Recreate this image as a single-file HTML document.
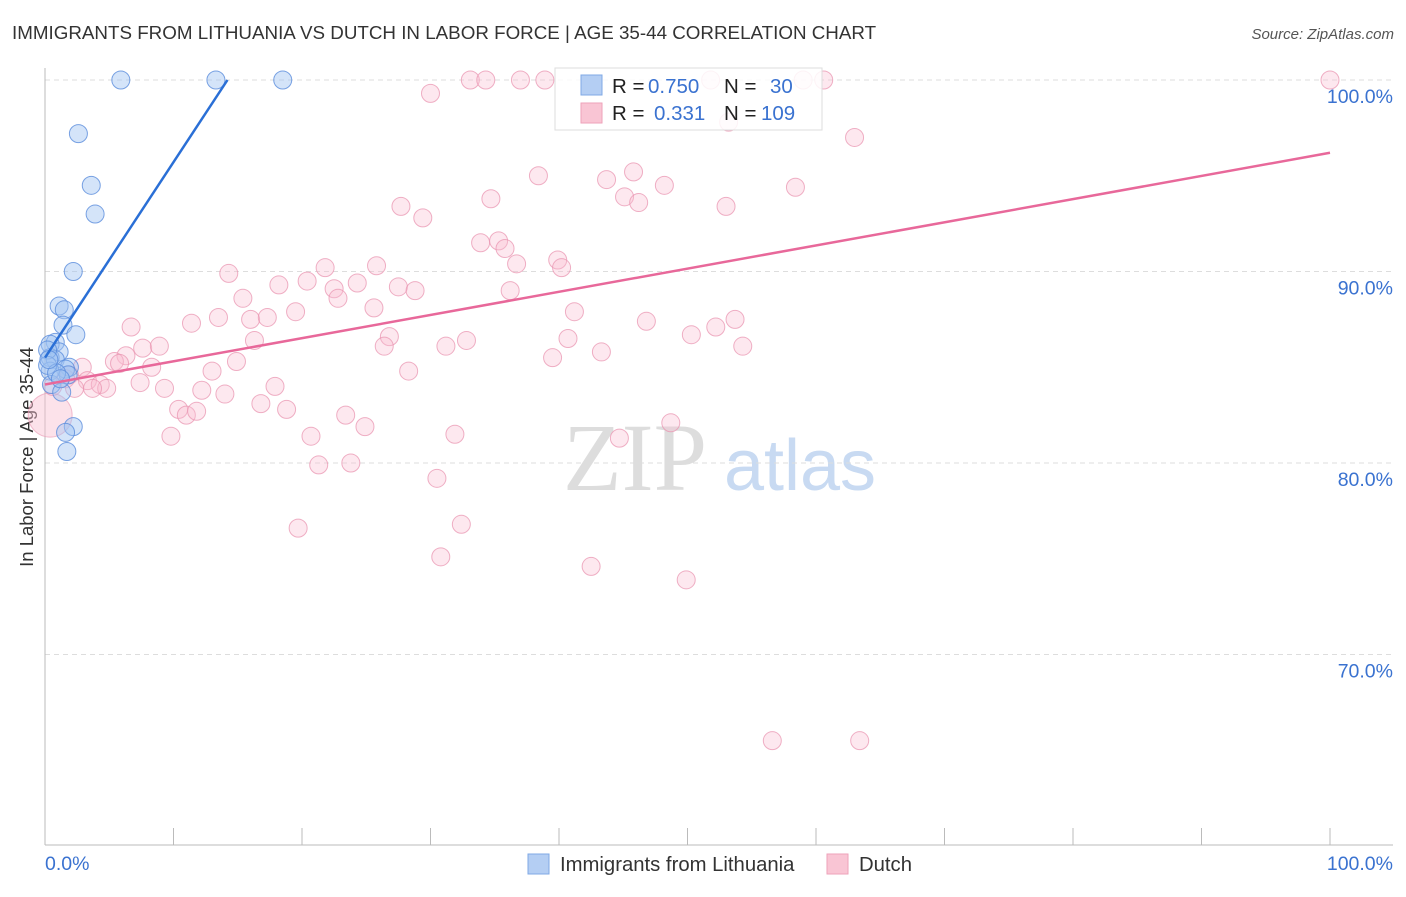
<!DOCTYPE html>
<html><head><meta charset="utf-8"><style>
body{margin:0;background:#fff;font-family:"Liberation Sans",sans-serif}
</style></head><body>
<svg id="chart" width="1406" height="892" xmlns="http://www.w3.org/2000/svg" font-family="Liberation Sans, sans-serif">
<text x="12" y="39" font-size="18.8" fill="#333">IMMIGRANTS FROM LITHUANIA VS DUTCH IN LABOR FORCE | AGE 35-44 CORRELATION CHART</text>
<text x="1394" y="39" font-size="15" fill="#555" text-anchor="end" font-style="italic">Source: ZipAtlas.com</text>
<text transform="translate(33,457) rotate(-90)" font-size="18.5" fill="#333" text-anchor="middle">In Labor Force | Age 35-44</text>
<g>
<text x="635" y="490" font-size="96" fill="#ddd" text-anchor="middle" font-family="Liberation Serif, serif">ZIP</text>
<text x="800" y="490" font-size="72" fill="#c8daf2" text-anchor="middle">atlas</text>
</g>
<g id="grid"></g><g id="axes"></g><g id="pts"></g><g id="lines"></g>
<g>
<rect x="555" y="68" width="267" height="62" fill="#fff" fill-opacity="0.85" stroke="#ddd"/>
<rect x="581" y="75" width="21" height="20" fill="#b4cef3" stroke="#7fa8e6"/>
<rect x="581" y="103" width="21" height="20" fill="#f9c5d4" stroke="#eea2ba"/>
<text x="612" y="93" font-size="20.5" fill="#222">R = </text><text x="648" y="93" font-size="20.5" fill="#3a72d0">0.750</text>
<text x="724" y="93" font-size="20.5" fill="#222">N = </text><text x="770" y="93" font-size="20.5" fill="#3a72d0">30</text>
<text x="612" y="120" font-size="20.5" fill="#222">R = </text><text x="654" y="120" font-size="20.5" fill="#3a72d0">0.331</text>
<text x="724" y="120" font-size="20.5" fill="#222">N = </text><text x="761" y="120" font-size="20.5" fill="#3a72d0">109</text>
</g>
<g>
<rect x="528" y="854" width="21" height="20" fill="#b4cef3" stroke="#7fa8e6"/>
<text x="560" y="871" font-size="20.3" fill="#333">Immigrants from Lithuania</text>
<rect x="827" y="854" width="21" height="20" fill="#f9c5d4" stroke="#eea2ba"/>
<text x="859" y="871" font-size="20.3" fill="#333">Dutch</text>
</g>
</svg>
<script>
const yTicks=[100,90,80,70];
const yTickLabels=["100.0%","90.0%","80.0%","70.0%"];
const blueX=[5.9,13.3,18.5,2.6,3.6,3.9,2.2,1.1,1.5,1.4,2.4,0.8,0.4,1.1,0.4,0.8,1.9,1.6,1.8,0.4,0.5,1.3,2.2,1.6,1.7,0.2,0.2,0.9,1.2,0.3];
const blueY=[100,100,100,97.2,94.5,93.0,90.0,88.2,88.0,87.2,86.7,86.3,86.2,85.8,85.5,85.4,85.0,84.9,84.6,84.8,84.1,83.7,81.9,81.6,80.6,85.9,85.1,84.7,84.4,85.4];
const pinkX=[33.1,34.3,37.0,38.9,51.8,59.0,60.6,100,30.0,63.0,53.2,38.4,43.7,45.8,48.2,58.4,45.1,46.2,34.7,27.7,29.4,53.0,33.9,35.3,35.8,36.7,39.9,40.2,25.8,21.8,14.3,18.2,20.4,24.3,22.5,22.8,27.5,28.8,15.4,36.2,25.6,19.5,41.2,11.4,13.5,16.0,17.3,6.7,46.8,52.2,53.7,50.3,26.8,26.4,31.2,32.8,40.7,16.3,7.6,8.9,6.3,5.4,5.8,14.9,8.3,13.0,2.9,39.5,43.3,54.3,28.3,1.9,3.3,4.3,4.8,3.7,7.4,9.3,12.2,14.0,17.9,1.6,2.3,0.6,16.8,18.8,10.4,11.0,11.8,23.4,24.9,20.7,9.8,31.9,44.7,48.7,21.3,23.8,30.5,32.4,19.7,30.8,42.5,49.9,56.6,63.4];
const pinkY=[100,100,100,100,100,100,100,100,99.3,97.0,97.8,95.0,94.8,95.2,94.5,94.4,93.9,93.6,93.8,93.4,92.8,93.4,91.5,91.6,91.2,90.4,90.6,90.2,90.3,90.2,89.9,89.3,89.5,89.4,89.1,88.6,89.2,89.0,88.6,89.0,88.1,87.9,87.9,87.3,87.6,87.5,87.6,87.1,87.4,87.1,87.5,86.7,86.6,86.1,86.1,86.4,86.5,86.4,86.0,86.1,85.6,85.3,85.2,85.3,85.0,84.8,85.0,85.5,85.8,86.1,84.8,84.6,84.3,84.1,83.9,83.9,84.2,83.9,83.8,83.6,84.0,84.4,83.9,84.0,83.1,82.8,82.8,82.5,82.7,82.5,81.9,81.4,81.4,81.5,81.3,82.1,79.9,80.0,79.2,76.8,76.6,75.1,74.6,73.9,65.5,65.5];
const bigX=[0.4], bigY=[82.5];
const blueLine=[0,85.5,14.2,100];
const pinkLine=[0,84.1,100,96.2];
const NS="http://www.w3.org/2000/svg";
const xs=v=>45+v*12.85, ys=v=>80+(100-v)*19.15;
function mk(parent,tag,attrs){const e=document.createElementNS(NS,tag);for(const k in attrs)e.setAttribute(k,attrs[k]);document.getElementById(parent).appendChild(e);return e;}
yTicks.forEach((t,i)=>{
 const g=mk('grid','line',{x1:45,x2:1393,y1:ys(t),y2:ys(t),stroke:'#ddd','stroke-dasharray':'5,4'});
 
 
 const l=mk('grid','text',{x:1393,y:ys(t)+23,'font-size':19.5,fill:'#3a72d0','text-anchor':'end'});l.textContent=yTickLabels[i];
 
 
});
let a=mk('axes','line',{x1:45,x2:45,y1:68,y2:845,stroke:'#bbb'});


a=mk('axes','line',{x1:45,x2:1393,y1:845,y2:845,stroke:'#bbb'});


for(let i=0;i<=10;i++){const t=mk('axes','line',{x1:xs(i*10),x2:xs(i*10),y1:828,y2:845,stroke:'#bbb'});
 
 }
let t=mk('axes','text',{x:45,y:870,'font-size':19.5,fill:'#3a72d0'});t.textContent='0.0%';


t=mk('axes','text',{x:1393,y:870,'font-size':19.5,fill:'#3a72d0','text-anchor':'end'});t.textContent='100.0%';


bigX.forEach((x,i)=>{const c=mk('pts','circle',{cx:xs(x),cy:ys(bigY[i]),r:22,fill:'rgba(248,190,208,0.45)',stroke:'rgba(234,150,178,0.6)'});
 
 });
pinkX.forEach((x,i)=>{const c=mk('pts','circle',{cx:xs(x),cy:ys(pinkY[i]),r:9,fill:'rgba(248,190,208,0.35)',stroke:'rgba(234,150,178,0.75)'});
 
 });
blueX.forEach((x,i)=>{const c=mk('pts','circle',{cx:xs(x),cy:ys(blueY[i]),r:9,fill:'rgba(160,196,242,0.45)',stroke:'rgba(90,140,220,0.8)'});
 
 });
let L=mk('lines','line',{x1:xs(pinkLine[0]),y1:ys(pinkLine[1]),x2:xs(pinkLine[2]),y2:ys(pinkLine[3]),stroke:'#e8689a','stroke-width':2.5});


L=mk('lines','line',{x1:xs(blueLine[0]),y1:ys(blueLine[1]),x2:xs(blueLine[2]),y2:ys(blueLine[3]),stroke:'#2a6fd6','stroke-width':2.5});


</script>
</body></html>
